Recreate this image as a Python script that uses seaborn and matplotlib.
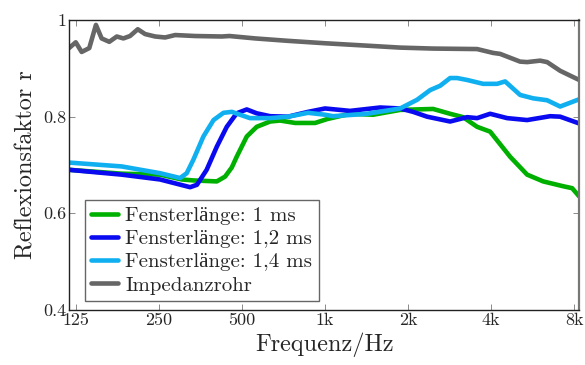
import pandas as pd
import seaborn as sns
import matplotlib.pyplot as plt
from matplotlib.ticker import FixedLocator, FixedFormatter, NullLocator

# values
f_1ms = [117.9, 183, 252, 302, 333, 405, 434, 459, 478, 520, 565, 632, 687, 779, 920,
         1017, 1232, 1493, 1871, 2464, 2840, 3166, 3558, 3967, 4688, 5403, 6176, 7297, 7866, 8341]
r_1ms = [0.690, 0.682, 0.680, 0.670, 0.668, 0.666, 0.676, 0.695, 0.717, 0.759, 0.779, 0.790, 0.792, 0.787, 0.787,
         0.795, 0.806, 0.804, 0.814, 0.816, 0.806, 0.799, 0.779, 0.769, 0.717, 0.680, 0.666, 0.656, 0.652, 0.635]

f_12ms = [117.9, 183, 252, 324, 343, 372, 405, 440, 478, 520, 565, 632, 734, 868, 1000,
          1232, 1583, 1871, 2085, 2344, 2840, 3274, 3558, 3967, 4572, 5403, 6548, 7118, 8341]
r_12ms = [0.690, 0.680, 0.670, 0.654, 0.659, 0.690, 0.738, 0.779, 0.807, 0.815, 0.807, 0.801, 0.800, 0.810, 0.817,
          0.812, 0.819, 0.817, 0.810, 0.800, 0.790, 0.799, 0.797, 0.806, 0.797, 0.793, 0.801, 0.800, 0.786]

f_14ms = [117.9, 183, 252, 298, 315, 333, 362, 394, 428, 459, 492, 534, 632, 734, 868, 1000, 1069,
          1420, 1871, 2156, 2403, 2613, 2840, 3011, 3274, 3742, 4205, 4496, 5095, 5680, 6385, 7118, 8341]
r_14ms = [0.705, 0.697, 0.683, 0.673, 0.683, 0.711, 0.759, 0.793, 0.808, 0.810, 0.804, 0.797, 0.797, 0.800, 0.808, 0.804, 0.801,
          0.806, 0.817, 0.835, 0.855, 0.864, 0.880, 0.880, 0.876, 0.868, 0.868, 0.873, 0.845, 0.838, 0.834, 0.821, 0.836]

f_rohr = [117.9, 124.7, 131, 139.6, 147.6, 154.8, 165, 175.7, 185.6, 196.2, 209.3, 222.6, 242, 263, 286, 338, 422, 450,
          558, 734, 1000, 1420, 1871, 2464, 3558, 4067, 4312, 5095, 5403, 6022, 6385, 7118, 8341]
r_rohr = [0.942, 0.954, 0.934, 0.942, 0.990, 0.962, 0.955, 0.966, 0.962, 0.967, 0.981, 0.971, 0.966, 0.964, 0.969, 0.967, 0.966, 0.967,
          0.962, 0.957, 0.952, 0.947, 0.943, 0.941, 0.940, 0.932, 0.930, 0.914, 0.913, 0.916, 0.913, 0.895, 0.876]

labels = ["Fensterlänge: 1 ms", "Fensterlänge: 1,2 ms", "Fensterlänge: 1,4 ms", "Impedanzrohr"]
colors = ["#00b000", "#0a0af0", "#10b0f0", "#666666"]

xticks = [125, 250, 500, 1000, 2000, 4000, 8000]
xticklabels = ["125", "250", "500", "1k", "2k", "4k", "8k"]
yticks = [0.4, 0.6, 0.8, 1.0]
yticklabels = ["0.4", "0.6", "0.8", "1"]

frames = []
for lab, f, r in zip(labels, [f_1ms, f_12ms, f_14ms, f_rohr], [r_1ms, r_12ms, r_14ms, r_rohr]):
    frames.append(pd.DataFrame({"f": f, "r": r, "serie": lab}))
df = pd.concat(frames, ignore_index=True)

sns.set_style("ticks")
# cmr10 has no ä, so it falls back to Liberation Serif for that glyph
plt.rcParams['font.family'] = ['cmr10', 'Liberation Serif']
plt.rcParams['axes.formatter.use_mathtext'] = True

fig = plt.figure(figsize=(5.85, 3.65), dpi=100)
ax = fig.add_axes([0.118, 0.151, 0.872, 0.794])

sns.lineplot(data=df, x="f", y="r", hue="serie", hue_order=labels,
             palette=dict(zip(labels, colors)), estimator=None, sort=False,
             linewidth=3.3, ax=ax)

ax.set_xscale("log")
ax.set_xlim(117.9, 8341)
ax.set_ylim(0.4, 1.0)
ax.xaxis.set_major_locator(FixedLocator(xticks))
ax.xaxis.set_major_formatter(FixedFormatter(xticklabels))
ax.xaxis.set_minor_locator(NullLocator())
ax.yaxis.set_major_locator(FixedLocator(yticks))
ax.yaxis.set_major_formatter(FixedFormatter(yticklabels))
ax.tick_params(direction="in", length=4, width=0.6, color="#777777",
               top=True, right=True, labelsize=13, pad=2)

for s in ax.spines.values():
    s.set_linewidth(1.0)
    s.set_color("#222222")
ax.spines["right"].set_color("#777777")
ax.spines["right"].set_linewidth(1.6)

ax.set_xlabel("Frequenz/Hz", fontsize=17.5, labelpad=3)
ax.set_ylabel("Reflexionsfaktor r", fontsize=17.5, labelpad=4)

leg = ax.legend(loc="lower left", bbox_to_anchor=(0.031, 0.031), borderaxespad=0,
                fontsize=15, frameon=True, fancybox=False, framealpha=1,
                edgecolor="#666666", handlelength=1.3, handletextpad=0.35,
                labelspacing=0.22, borderpad=0.3)
leg.get_frame().set_linewidth(1.0)
for line in leg.get_lines():
    line.set_linewidth(3.3)

fig.savefig("out.png", dpi=100)
